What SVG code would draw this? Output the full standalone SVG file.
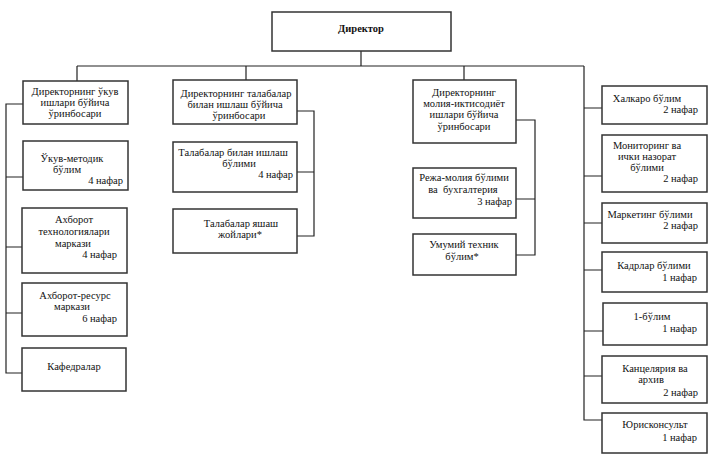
<svg xmlns="http://www.w3.org/2000/svg" width="712" height="461" viewBox="0 0 712 461">
<style>
.box{fill:#fff;stroke:#333;stroke-width:1.5}
.ln{fill:none;stroke:#222;stroke-width:1.2}
text{font-family:'Liberation Serif','DejaVu Serif',serif;font-size:10.5px;fill:#111}
.c{text-anchor:middle}
.e{text-anchor:end}
.b{font-weight:bold}
</style>
<rect width="712" height="461" fill="#fff"/>
<g id="connectors">
<path class="ln" d="M361 51V66M77 66H584"/>
<path class="ln" d="M77 66V81M23 104H6V373H22M6 177H23M6 247H22M6 313H22"/>
<path class="ln" d="M246 66V80M297 111H314V236H297M314 172H297"/>
<path class="ln" d="M464 66V80M516 120H535V255H516M535 199H516"/>
<path class="ln" d="M584 66V420H602M584 108H602M584 176H602M584 223H602M584 270H602M584 331H603M584 376H602"/>
</g>
<g id="director">
<rect class="box" x="272" y="12" width="179" height="39"/>
<text class="c b" x="361" y="32">Директор</text>
</g>
<g id="dep-ukuv">
<rect class="box" x="23" y="81" width="105" height="43"/>
<text class="c" x="75" y="95">Директорнинг ўкув</text>
<text class="c" x="75" y="106">ишлари бўйича</text>
<text class="c" x="75" y="117">ўринбосари</text>
</g>
<g id="ukuv-metodik">
<rect class="box" x="23" y="141" width="105" height="49"/>
<text class="c" x="72" y="162">Ўкув-методик</text>
<text x="53" y="173">бўлим</text>
<text class="e" x="123" y="184">4 нафар</text>
</g>
<g id="axborot-tex">
<rect class="box" x="22" y="208" width="105" height="65"/>
<text class="c" x="74" y="223">Ахборот</text>
<text class="c" x="74" y="235">технологиялари</text>
<text class="c" x="73" y="247">маркази</text>
<text class="e" x="117" y="258">4 нафар</text>
</g>
<g id="axborot-resurs">
<rect class="box" x="22" y="283" width="105" height="53"/>
<text class="c" x="75" y="299">Ахборот-ресурс</text>
<text class="c" x="72" y="310">маркази</text>
<text class="e" x="117" y="322">6 нафар</text>
</g>
<g id="kafedralar">
<rect class="box" x="22" y="348" width="104" height="43"/>
<text class="c" x="74" y="370">Кафедралар</text>
</g>
<g id="dep-talaba">
<rect class="box" x="173" y="80" width="124" height="44"/>
<text class="c" x="236" y="97">Директорнинг талабалар</text>
<text class="c" x="235" y="108">билан ишлаш бўйича</text>
<text class="c" x="239" y="119">ўринбосари</text>
</g>
<g id="talaba-bulim">
<rect class="box" x="173" y="142" width="124" height="50"/>
<text class="c" x="233" y="156">Талабалар билан ишлаш</text>
<text class="c" x="239" y="167">бўлими</text>
<text class="e" x="293" y="178">4 нафар</text>
</g>
<g id="talaba-yashash">
<rect class="box" x="173" y="209" width="124" height="44"/>
<text class="c" x="241" y="227">Талабалар яшаш</text>
<text class="c" x="240" y="238">жойлари*</text>
</g>
<g id="dep-moliya">
<rect class="box" x="413" y="80" width="103" height="63"/>
<text class="c" x="464" y="96">Директорнинг</text>
<text class="c" x="464" y="107">молия-иктисодиёт</text>
<text class="c" x="464" y="118">ишлари бўйича</text>
<text class="c" x="464" y="130">ўринбосари</text>
</g>
<g id="reja-moliya">
<rect class="box" x="413" y="168" width="103" height="50"/>
<text class="c" x="464" y="181">Режа-молия бўлими</text>
<text class="c" x="463" y="193" xml:space="preserve">ва  бухгалтерия</text>
<text class="e" x="512" y="205">3 нафар</text>
</g>
<g id="umumiy-texnik">
<rect class="box" x="413" y="234" width="103" height="41"/>
<text class="c" x="464" y="248">Умумий техник</text>
<text class="c" x="462" y="260">бўлим*</text>
</g>
<g id="xalqaro">
<rect class="box" x="602" y="86" width="105" height="38"/>
<text class="c" x="647" y="102">Халкаро бўлим</text>
<text class="e" x="698" y="113">2 нафар</text>
</g>
<g id="monitoring">
<rect class="box" x="602" y="135" width="105" height="57"/>
<text class="c" x="647" y="149">Мониторинг ва</text>
<text class="c" x="647" y="160">ички назорат</text>
<text class="c" x="647" y="171">бўлими</text>
<text class="e" x="698" y="182">2 нафар</text>
</g>
<g id="marketing">
<rect class="box" x="602" y="203" width="105" height="40"/>
<text class="c" x="650" y="218">Маркетинг бўлими</text>
<text class="e" x="698" y="229">2 нафар</text>
</g>
<g id="kadrlar">
<rect class="box" x="602" y="252" width="105" height="40"/>
<text class="c" x="654" y="269">Кадрлар бўлими</text>
<text class="e" x="697" y="281">1 нафар</text>
</g>
<g id="bulim-1">
<rect class="box" x="603" y="303" width="104" height="42"/>
<text class="c" x="652" y="320">1-бўлим</text>
<text class="e" x="697" y="332">1 нафар</text>
</g>
<g id="kanselyariya">
<rect class="box" x="602" y="356" width="105" height="47"/>
<text class="c" x="655" y="372">Канцелярия ва</text>
<text class="c" x="651" y="383">архив</text>
<text class="e" x="698" y="396">2 нафар</text>
</g>
<g id="yuriskonsult">
<rect class="box" x="602" y="413" width="105" height="40"/>
<text class="c" x="655" y="428">Юрисконсульт</text>
<text class="e" x="697" y="441">1 нафар</text>
</g>
</svg>
